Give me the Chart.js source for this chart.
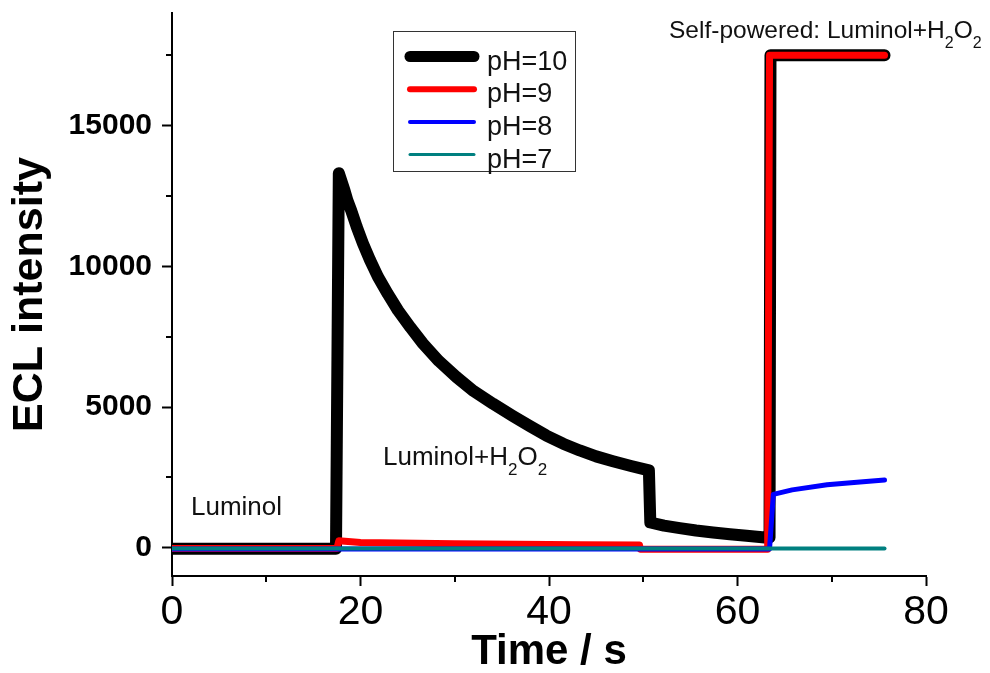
<!DOCTYPE html>
<html>
<head>
<meta charset="utf-8">
<script src="https://cdn.jsdelivr.net/npm/chart.js@4.4.1/dist/chart.umd.min.js"></script>
<style>
  html, body { margin: 0; padding: 0; background: #fff; }
  #chart { display: block; }
</style>
</head>
<body>
<canvas id="chart" width="990" height="673"></canvas>
<script>
// Datos (tiempo en s, intensidad ECL)
const ph10Time = [0, 17.4, 17.7, 18.3, 18.6, 19.0, 19.6, 20.25, 21.0, 21.85, 22.9, 23.97, 25.3, 26.62, 28.3, 30.17, 32.0, 34.05, 36.18, 38.0, 39.72, 41.5, 43.26, 45.0, 46.79, 48.7, 50.6, 50.75, 52.2, 53.87, 55.6, 57.41, 59.2, 60.96, 62.9, 63.4, 63.5, 75.6];
const ph10Value = [-30, -30, 13310, 12700, 12350, 12000, 11400, 10820, 10230, 9630, 9020, 8440, 7830, 7260, 6640, 6070, 5570, 5120, 4680, 4320, 3990, 3700, 3460, 3250, 3080, 2910, 2750, 900, 790, 700, 615, 545, 485, 430, 370, 370, 17500, 17500];

const ph9Time = [0, 17.5, 17.7, 20.0, 30.0, 43.3, 49.6, 49.7, 63.2, 63.4, 75.6];
const ph9Value = [-20, -20, 250, 190, 150, 110, 100, -50, -50, 17500, 17500];

const ph8Time = [0, 63.4, 63.8, 65.8, 69.5, 73.0, 75.6];
const ph8Value = [-40, -40, 1900, 2060, 2240, 2340, 2410];

const ph7Time = [0, 75.6];
const ph7Value = [-20, -20];

const seriesLabels = ['pH=10', 'pH=9', 'pH=8', 'pH=7'];
const seriesColors = ['#000000', '#ff0000', '#0000ff', '#008080'];
const seriesWidths = [12, 7, 5, 4];

const xTicks = [0, 20, 40, 60, 80];
const xMinorTicks = [10, 30, 50, 70];
const yTicks = [0, 5000, 10000, 15000];
const yMinorTicks = [2500, 7500, 12500, 17500];

const FONT = "'Liberation Sans', Arial, sans-serif";

function toPoints(times, values) {
    return times.map((t, i) => ({ x: t, y: values[i] }));
}

const allSeries = [
    toPoints(ph10Time, ph10Value),
    toPoints(ph9Time, ph9Value),
    toPoints(ph8Time, ph8Value),
    toPoints(ph7Time, ph7Value)
];

// Dibuja "<prefijo>2O2" con subindices
function drawFormula(ctx, prefix, x, y, size) {
    const big = `${size}px ${FONT}`;
    const small = `${Math.round(size * 0.67)}px ${FONT}`;
    ctx.font = big;
    ctx.fillText(prefix, x, y);
    x += ctx.measureText(prefix).width;
    ctx.font = small;
    ctx.fillText('2', x, y + 10);
    x += ctx.measureText('2').width;
    ctx.font = big;
    ctx.fillText('O', x, y);
    x += ctx.measureText('O').width;
    ctx.font = small;
    ctx.fillText('2', x, y + 10);
}

// Plugin: ticks menores, leyenda y anotaciones de texto
const extrasPlugin = {
    id: 'extras',
    afterDraw(chart) {
        const ctx = chart.ctx;
        const xs = chart.scales.x;
        const ys = chart.scales.y;
        const area = chart.chartArea;
        ctx.save();
        ctx.strokeStyle = '#000';
        ctx.lineWidth = 2;
        // ticks menores
        xMinorTicks.forEach(v => {
            const px = Math.round(xs.getPixelForValue(v));
            ctx.beginPath();
            ctx.moveTo(px, area.bottom);
            ctx.lineTo(px, area.bottom + 6);
            ctx.stroke();
        });
        yMinorTicks.forEach(v => {
            const py = Math.round(ys.getPixelForValue(v));
            ctx.beginPath();
            ctx.moveTo(area.left, py);
            ctx.lineTo(area.left - 6, py);
            ctx.stroke();
        });

        // leyenda
        ctx.lineWidth = 1;
        ctx.strokeStyle = '#333';
        ctx.strokeRect(393.5, 31.5, 182, 140);
        ctx.lineCap = 'round';
        seriesLabels.forEach((label, i) => {
            const y = 56.5 + i * 32.7;
            ctx.beginPath();
            ctx.strokeStyle = seriesColors[i];
            ctx.lineWidth = seriesWidths[i] - 1;
            ctx.moveTo(410, y);
            ctx.lineTo(474, y);
            ctx.stroke();
            ctx.fillStyle = '#111';
            ctx.font = `27px ${FONT}`;
            ctx.textBaseline = 'alphabetic';
            ctx.textAlign = 'left';
            ctx.fillText(label, 487, y + 13);
        });

        // anotaciones
        ctx.fillStyle = '#111';
        ctx.font = `26px ${FONT}`;
        ctx.fillText('Luminol', 191, 515);
        drawFormula(ctx, 'Luminol+H', 383, 465, 26);
        drawFormula(ctx, 'Self-powered: Luminol+H', 669, 38, 24.5);
        ctx.restore();
    }
};

const ctx = document.getElementById('chart').getContext('2d');
new Chart(ctx, {
    type: 'line',
    data: {
        datasets: allSeries.map((pts, i) => ({
            label: seriesLabels[i],
            data: pts,
            borderColor: seriesColors[i],
            borderWidth: seriesWidths[i],
            borderJoinStyle: 'round',
            borderCapStyle: 'round',
            pointRadius: 0,
            tension: 0,
            fill: false,
            order: 4 - i
        }))
    },
    options: {
        responsive: false,
        animation: false,
        layout: { padding: { top: 13, right: 64, left: 0, bottom: 0 } },
        plugins: {
            legend: { display: false },
            tooltip: { enabled: false }
        },
        scales: {
            x: {
                type: 'linear',
                min: 0,
                max: 80,
                afterBuildTicks: s => { s.ticks = xTicks.map(v => ({ value: v })); },
                afterFit: s => { s.height = 97; },
                grid: { drawOnChartArea: false, tickLength: 10, tickWidth: 2, tickColor: '#000' },
                border: { display: true, color: '#000', width: 2 },
                ticks: { color: '#000', font: { family: FONT, size: 41 }, padding: 2, maxRotation: 0, callback: v => String(v) },
                title: { display: true, text: 'Time / s', color: '#000', font: { family: FONT, size: 42, weight: 'bold', lineHeight: 1 }, padding: 0 }
            },
            y: {
                type: 'linear',
                min: -1000,
                max: 19000,
                afterBuildTicks: s => { s.ticks = yTicks.map(v => ({ value: v })); },
                afterFit: s => { s.width = 172; s.paddingTop = 0; s.paddingBottom = 0; },
                grid: { drawOnChartArea: false, tickLength: 10, tickWidth: 2, tickColor: '#000' },
                border: { display: true, color: '#000', width: 2 },
                ticks: { color: '#000', font: { family: FONT, size: 30, weight: 'bold' }, padding: 10, callback: v => String(v) },
                title: { display: true, text: 'ECL intensity', color: '#000', font: { family: FONT, size: 43, weight: 'bold' }, padding: 4 }
            }
        }
    },
    plugins: [extrasPlugin]
});
</script>
</body>
</html>
